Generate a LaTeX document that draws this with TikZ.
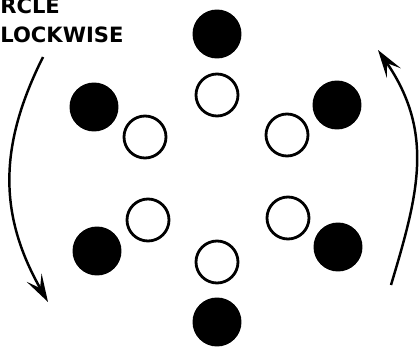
\documentclass[tikz,border=0pt]{standalone}
\usepackage{fontspec}
\usepackage{tikz}
\usetikzlibrary{arrows.meta,positioning}
\newfontfamily\capsfont{DejaVu Sans}
\definecolor{rdInk}{HTML}{000000}
\tikzset{
  ball/.style     ={circle,fill=rdInk,inner sep=0pt,minimum size=0.98cm},
  ring/.style     ={circle,draw=rdInk,line width=1.6pt,inner sep=0pt,minimum size=0.84cm},
  turn/.style     ={-{Stealth[length=5.6mm,width=3.4mm,inset=2.4mm]},rdInk,line width=1.4pt},
  caplbl/.style   ={font=\capsfont\bfseries\fontsize{12}{14}\selectfont,text=rdInk,
                    inner sep=0pt,anchor=base west},
}
\begin{document}
\begin{tikzpicture}[x=0.02cm,y=-0.02cm]
\useasboundingbox (0,0) rectangle (420,348);
%% outer ring of filled balls
\node[ball] (bT)  at (217,34)  {};
\node[ball] (bUL) at (94,107)  {};
\node[ball] (bUR) at (337,105) {};
\node[ball] (bLL) at (97,251)  {};
\node[ball] (bLR) at (338,247) {};
\node[ball] (bB)  at (217,322) {};
%% inner ring of open balls
\node[ring] (rT)  at (217,95)  {};
\node[ring] (rUL) at (145,137) {};
\node[ring] (rUR) at (287,135) {};
\node[ring] (rLL) at (148,220) {};
\node[ring] (rLR) at (288,218) {};
\node[ring] (rB)  at (217,262) {};

\node[caplbl] (l1) at (0,14) {RCLE};
\node[caplbl] (l2) at (0,43) {LOCKWISE};

\coordinate (aLs) at (43,57);
\coordinate (aLe) at (48,302);
\coordinate (aRs) at (391,285);
\coordinate (aRe) at (378,50);
\draw[turn] (aLs) .. controls (-1,145) and (-2,214) .. (aLe);
\draw[turn] (aRs) .. controls (418,195) and (435,133) .. (aRe);
\end{tikzpicture}
\end{document}
